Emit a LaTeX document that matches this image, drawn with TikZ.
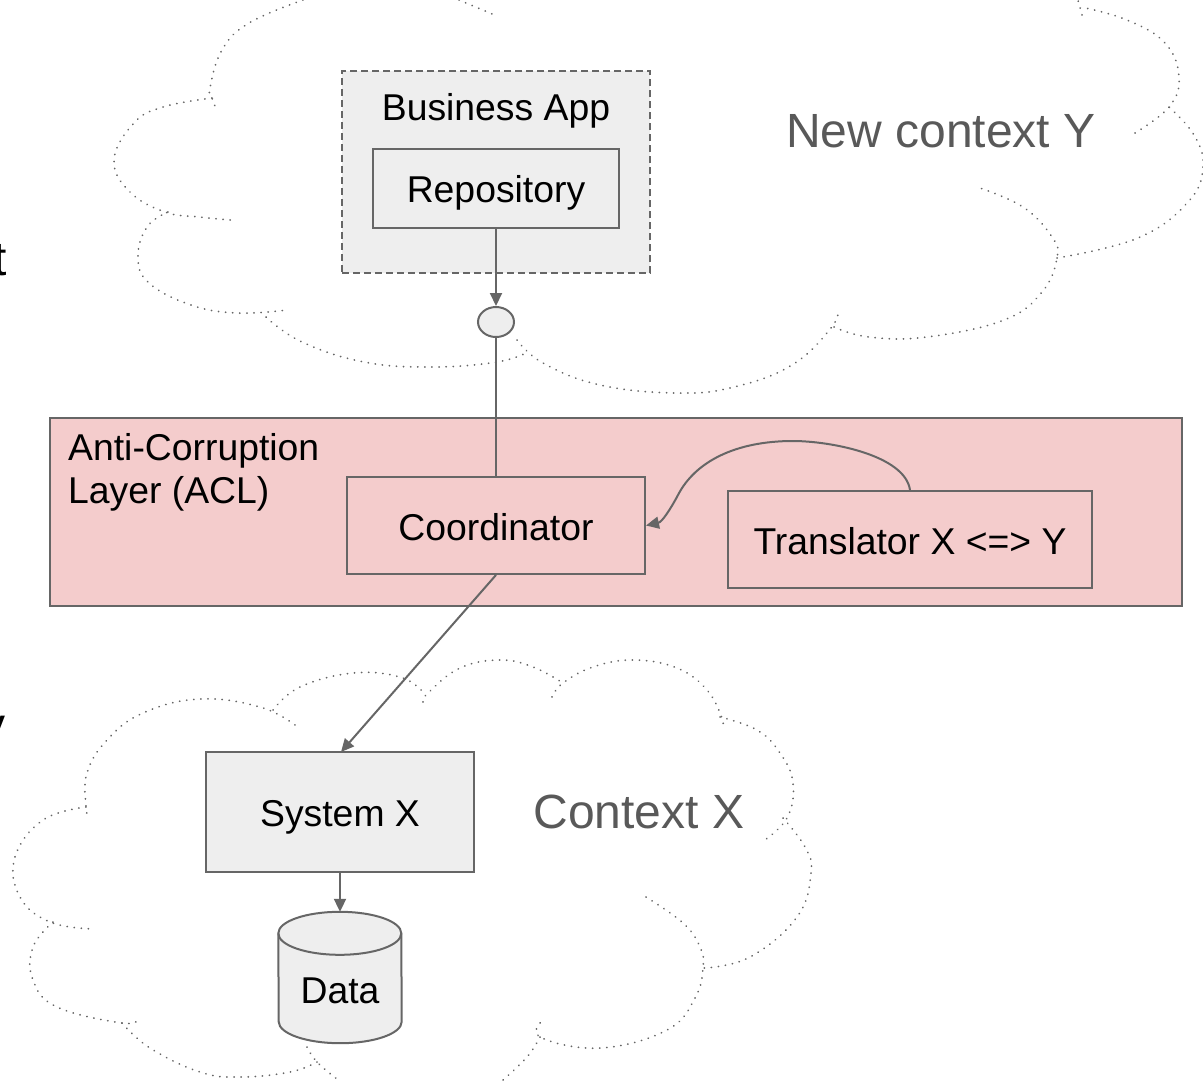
\documentclass[tikz,border=0pt]{standalone}
\usepackage{fontspec}
\setmainfont{Liberation Sans}
\usetikzlibrary{arrows.meta,shapes.geometric}
\definecolor{edge}{HTML}{666666}
\definecolor{boxfill}{HTML}{EEEEEE}
\definecolor{aclfill}{HTML}{F4CCCC}
\definecolor{ctxtext}{HTML}{595959}
\newcommand{\fs}[2]{\fontsize{#1}{#2}\selectfont}
\tikzset{
  x=1pt,y=-1pt,
  boxnode/.style={draw=edge,line width=2pt,fill=boxfill,inner sep=0pt,text=black,font=\fs{37.33}{44},align=center,text height=30pt,text depth=2pt},
  aclnode/.style={draw=edge,line width=2pt,fill=aclfill,inner sep=0pt,text=black,font=\fs{37.33}{44},text height=30pt,text depth=0pt},
  flow/.style={draw=edge,line width=2pt,-{Triangle[length=13pt,width=12pt]}},
  wire/.style={draw=edge,line width=2pt},
  cloudline/.style={draw=edge,line width=1.8pt,line cap=round,dash pattern=on 0.2pt off 6.9pt,smooth,tension=0.7},
}
\begin{document}
\begin{tikzpicture}
\useasboundingbox (0,0) rectangle (1203,1080);
% stray clipped text at left edge
\node[anchor=base east,inner sep=0pt,font=\fs{48}{58},text=black] (strayt) at (7,275) {t};
\node[anchor=base east,inner sep=0pt,font=\fs{48}{58},text=black] (strayy) at (6,741) {y};
% top cloud
\draw[cloudline] plot coordinates {(303,0)(249,23)(222,50)(210,88)(212,98)(215,106)};
\draw[cloudline] plot coordinates {(212,98)(163,107)(134,123)(114,160)(130,192)(165,212)(199,217)(231,220)};
\draw[cloudline] plot coordinates {(168,212)(147,227)(138,257)(149,283)(191,305)(237,313)(287,310)};
\draw[cloudline] plot coordinates {(266,317)(302,342)(364,362)(432,367)(497,362)(528,352)};
\draw[cloudline] plot coordinates {(517,340)(543,363)(600,385)(677,393)(734,387)(792,365)(831,328)(838,310)};
\draw[cloudline] plot coordinates {(834,327)(869,337)(927,337)(1004,320)(1042,292)(1057,258)(1052,237)(1023,207)(977,187)};
\draw[cloudline] plot coordinates {(1057,258)(1138,238)(1188,202)(1203,167)(1194,135)(1169,107)};
\draw[cloudline] plot coordinates {(1135,133)(1169,107)(1179,77)(1165,43)(1127,20)(1081,7)};
\draw[cloudline] plot coordinates {(1082,15)(1078,0)};
\draw[cloudline] plot coordinates {(459,0)(497,16)};
% bottom cloud
\draw[cloudline] plot coordinates {(295,725)(260,707)(200,699)(143,713)(107,740)(87,773)(86,807)(88,815)};
\draw[cloudline] plot coordinates {(86,807)(43,820)(15,857)(20,897)(50,922)(93,929)};
\draw[cloudline] plot coordinates {(53,922)(33,947)(33,980)(57,1007)(122,1023)(138,1019)};
\draw[cloudline] plot coordinates {(122,1023)(150,1048)(200,1072)(240,1077)(290,1072)(317,1062)};
\draw[cloudline] plot coordinates {(307,1047)(317,1062)(337,1079)};
\draw[cloudline] plot coordinates {(273,710)(300,687)(353,673)(400,677)(423,692)};
\draw[cloudline] plot coordinates {(423,702)(428,693)(460,668)(500,660)(533,667)(563,683)};
\draw[cloudline] plot coordinates {(552,697)(563,683)(593,667)(633,660)(677,668)(707,690)(722,718)(722,725)};
\draw[cloudline] plot coordinates {(720,717)(757,730)(780,753)(793,783)(787,818)(762,842)};
\draw[cloudline] plot coordinates {(783,818)(805,847)(811,873)(797,917)(750,957)(704,968)};
\draw[cloudline] plot coordinates {(646,897)(683,923)(700,947)(703,968)(695,998)(667,1030)(600,1048)(540,1037)(544,1019)};
\draw[cloudline] plot coordinates {(540,1037)(527,1057)(503,1080)};
% context labels
\node[inner sep=0pt,anchor=base,font=\fs{48}{58},text=ctxtext] (ctxy) at (941,147) {New context Y};
\node[inner sep=0pt,anchor=base,font=\fs{48}{58},text=ctxtext] (ctxx) at (639,828) {Context X};
% business app
\node[draw=edge,line width=2pt,dash pattern=on 7pt off 4pt,fill=boxfill,inner sep=0pt,minimum width=308pt,minimum height=202pt] (bizapp) at (496,172) {};
\node[inner sep=0pt,anchor=base,font=\fs{37.33}{44}] (biztext) at (496,120) {Business App};
\node[boxnode,minimum width=246pt,minimum height=79pt] (repo) at (496,188.5) {Repository};
\node[draw=edge,line width=2pt,fill=boxfill,ellipse,inner sep=0pt,minimum width=36pt,minimum height=30pt] (port) at (496,322) {};
% ACL layer
\node[draw=edge,line width=2pt,fill=aclfill,inner sep=0pt,minimum width=1132pt,minimum height=188pt] (acl) at (616,512) {};
\node[inner sep=0pt,anchor=north west,align=left,font=\fs{37.33}{43},text=black] (acltext) at (68,433) {Anti-Corruption\\Layer (ACL)};
\node[aclnode,minimum width=298pt,minimum height=97pt] (coord) at (496,525.5) {Coordinator};
\node[aclnode,minimum width=364pt,minimum height=97pt] (trans) at (910,539.5) {Translator X <=> Y};
% context X
\node[boxnode,minimum width=268pt,minimum height=120pt] (sysx) at (340,812) {System X};
\node[inner sep=0pt,minimum width=123pt,minimum height=131pt] (data) at (340,977.5) {};
\draw[draw=edge,line width=2pt,fill=boxfill] ([yshift=-21.5pt]data.north west) arc[start angle=180,end angle=0,x radius=61.5pt,y radius=21.5pt] -- ([yshift=21.5pt]data.south east) arc[start angle=360,end angle=180,x radius=61.5pt,y radius=21.5pt] -- cycle;
\draw[draw=edge,line width=2pt] ([yshift=-21.5pt]data.north west) arc[start angle=180,end angle=360,x radius=61.5pt,y radius=21.5pt];
\node[inner sep=0pt,anchor=base,font=\fs{37.33}{44}] (datatext) at (340,1003) {Data};
% connectors
\draw[flow] (repo.south) -- (port.north);
\draw[wire] (port.south) -- (coord.north);
\draw[flow] (trans.north) .. controls (905,455) and (830,441) .. (793,441) .. controls (735,441) and (695,462) .. (678,495) .. controls (670,510) and (662,522) .. (coord.east);
\draw[flow] (coord.south) -- (341,752);
\draw[flow] (sysx.south) -- (data.north);
\end{tikzpicture}
\end{document}
